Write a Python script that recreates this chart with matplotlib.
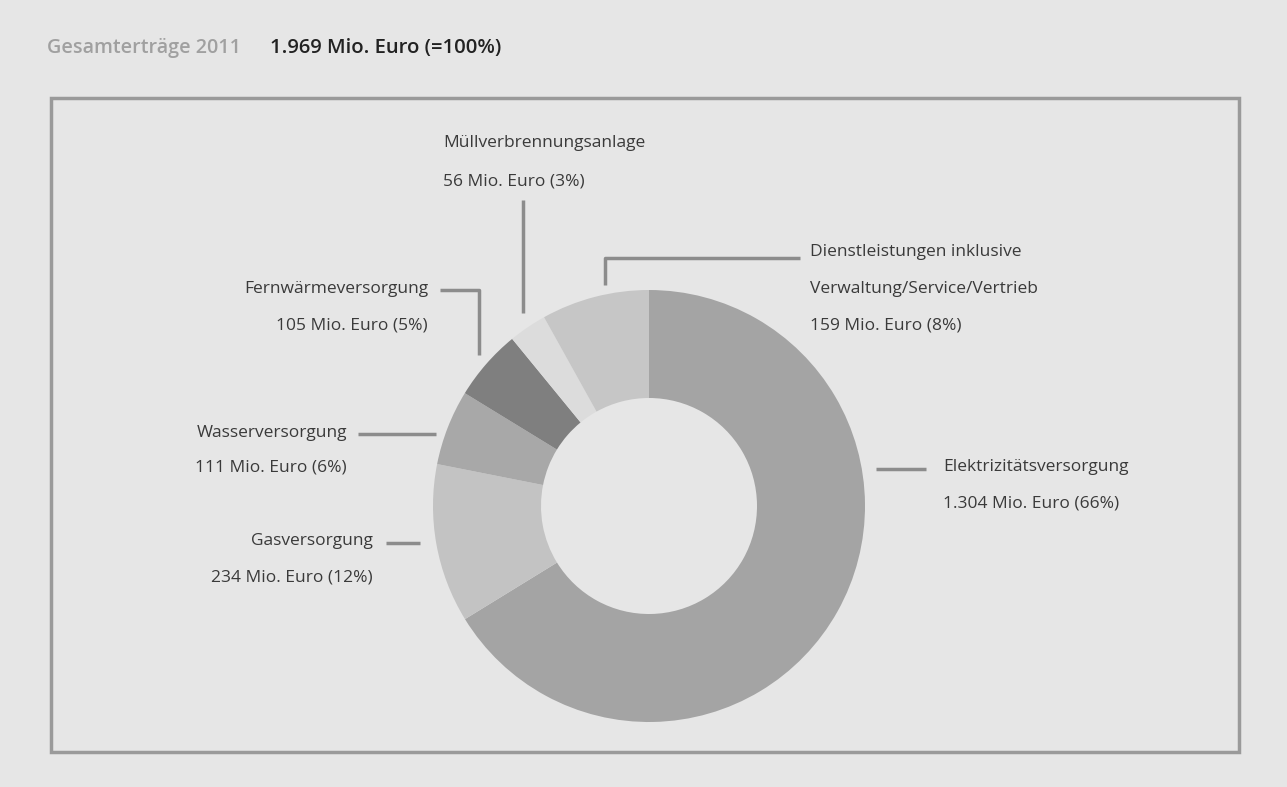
import matplotlib.pyplot as plt
from matplotlib.patches import Rectangle

plt.rcParams['font.family'] = ['Open Sans', 'DejaVu Sans']

# Erträge 2011 in Mio. Euro
labels = ['Elektrizitätsversorgung', 'Gasversorgung', 'Wasserversorgung',
          'Fernwärmeversorgung', 'Müllverbrennungsanlage',
          'Dienstleistungen inklusive\nVerwaltung/Service/Vertrieb']
values = [1304, 234, 111, 105, 56, 159]
shares = [66, 12, 6, 5, 3, 8]
total = 1969
colors = ['#a4a4a4', '#c3c3c3', '#a8a8a8', '#7f7f7f', '#dcdcdc', '#c6c6c6']

W, H = 1287, 787
bg = '#e6e6e6'
linec = '#8c8c8c'
txtc = '#3a3a3a'

fig = plt.figure(figsize=(W / 100, H / 100), dpi=100, facecolor=bg)
ax = fig.add_axes([0, 0, 1, 1])


def Y(y):
    # top-down pixel row -> axes y
    return H - y


ax.add_patch(Rectangle((51, Y(752)), 1188, 654, fill=False,
                       edgecolor='#9a9a9a', lw=2.5))

ax.text(47, Y(48), 'Gesamterträge 2011', fontsize=14.2, color='#a0a0a0',
        fontweight='semibold', va='center')
ax.text(270, Y(48), '%s Mio. Euro (=100%%)' % f'{total:,}'.replace(',', '.'),
        fontsize=14.6, color='#222222', fontweight='semibold', va='center')

ax.pie(values, colors=colors, startangle=90, counterclock=False,
       center=(649, Y(506)), radius=216, frame=True,
       wedgeprops=dict(width=108, linewidth=0))
ax.set_xlim(0, W)
ax.set_ylim(0, H)
ax.set_aspect('equal')
ax.axis('off')

fmt = lambda v: f'{v:,}'.replace(',', '.')
names = labels
amt = ['%s Mio. Euro (%d%%)' % (fmt(v), s) for v, s in zip(values, shares)]


def lbl(x, ys, lines, ha):
    for yy, t in zip(ys, lines):
        ax.text(x, Y(yy), t, fontsize=12.5, color=txtc, ha=ha, va='center')


def lead(xs, ys):
    ax.plot(xs, [Y(v) for v in ys], color=linec, lw=2.5,
            solid_capstyle='butt')


# Elektrizität
lead([876, 926], [469, 469])
lbl(943, [467, 503], [names[0], amt[0]], 'left')
# Gas
lead([386, 420], [543, 543])
lbl(373, [541, 578], [names[1], amt[1]], 'right')
# Wasser
lead([358, 436], [434, 434])
lbl(347, [433, 467], [names[2], amt[2]], 'right')
# Fernwärme
lead([440, 479, 479], [290, 290, 355])
lbl(428, [289, 326], [names[3], amt[3]], 'right')
# Müll
lead([523, 523], [200, 313])
lbl(443, [143, 182], [names[4], amt[4]], 'left')
# Dienstleistungen
lead([605, 605, 800], [285, 258, 258])
lbl(810, [252, 289, 326], names[5].split('\n') + [amt[5]], 'left')

fig.savefig('out.png', dpi=100, facecolor=bg)
